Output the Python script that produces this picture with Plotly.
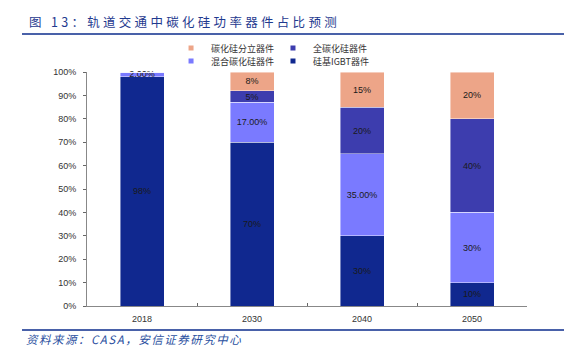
import plotly.graph_objects as go

years = ["2018", "2030", "2040", "2050"]
igbt = [98, 70, 30, 10]
hybrid = [2, 17, 35, 30]
full_sic = [0, 5, 20, 40]
discrete = [0, 8, 15, 20]

igbt_text = ["98%", "70%", "30%", "10%"]
hybrid_text = ["2.00%", "17.00%", "35.00%", "30%"]
full_text = ["", "5%", "20%", "40%"]
discrete_text = ["", "8%", "15%", "20%"]

names = ["硅基IGBT器件", "混合碳化硅器件", "全碳化硅器件", "碳化硅分立器件"]
colors = ["#10288F", "#7A7AFF", "#3D3DAE", "#EDA588"]

y_ticks = [0, 10, 20, 30, 40, 50, 60, 70, 80, 90, 100]
y_tick_labels = ["0%", "10%", "20%", "30%", "40%", "50%", "60%", "70%", "80%", "90%", "100%"]

FONT = "Liberation Sans, Arial, Noto Sans CJK SC, sans-serif"
CJK = "Noto Sans CJK SC, Liberation Sans, sans-serif"

fig = go.Figure()
series = [igbt, hybrid, full_sic, discrete]
texts = [igbt_text, hybrid_text, full_text, discrete_text]
for vals, txt, name, col in zip(series, texts, names, colors):
    fig.add_trace(go.Bar(
        x=years, y=vals, name=name, text=txt,
        textposition="inside", insidetextanchor="middle",
        constraintext="none", textangle=0, cliponaxis=False,
        textfont=dict(family=FONT, size=9, color="#1a1a1a"),
        marker=dict(color=col, line=dict(color="rgba(255,255,255,0.55)", width=0.8)),
        width=0.4, showlegend=False, hoverinfo="skip",
    ))

# legend entries (4 single-item legends placed as in the reference)
legend_pos = {
    "碳化硅分立器件": ("legend", 0.191, 1.1026),
    "全碳化硅器件": ("legend2", 0.4227, 1.1026),
    "混合碳化硅器件": ("legend3", 0.191, 1.047),
    "硅基IGBT器件": ("legend4", 0.4227, 1.047),
}
for name, col in zip(names, colors):
    lg = legend_pos[name][0]
    fig.add_trace(go.Scatter(
        x=[None], y=[None], mode="markers", name=name,
        marker=dict(symbol="square", size=5, color=col),
        legend=lg, showlegend=True, hoverinfo="skip",
    ))

legend_common = dict(font=dict(family=CJK, size=9, color="#333333"),
                     bgcolor="rgba(0,0,0,0)", borderwidth=0,
                     xanchor="left", yanchor="middle", itemwidth=30)
layout_legends = {}
for name, (lg, x, y) in legend_pos.items():
    layout_legends[lg] = dict(x=x, y=y, **legend_common)

# the page body has an 8px margin, so the figure is 8px smaller than the window
fig.update_layout(
    barmode="stack",
    width=564, height=350,
    margin=dict(l=79, r=45, t=64, b=52),
    paper_bgcolor="white", plot_bgcolor="white",
    font=dict(family=FONT, size=9, color="#333333"),
    bargap=0.6,
    **layout_legends,
)

fig.update_xaxes(
    type="category", showline=True, linecolor="#888888", linewidth=1,
    ticks="inside", tickson="boundaries", ticklen=3, tickcolor="#666666",
    tickfont=dict(family=FONT, size=9, color="#333333"),
    showgrid=False, zeroline=False, ticklabelstandoff=4,
)
fig.update_yaxes(
    range=[0, 100], tickvals=y_ticks, ticktext=y_tick_labels,
    showline=True, linecolor="#888888", linewidth=1,
    ticks="outside", ticklen=3, tickcolor="#666666",
    tickfont=dict(family=FONT, size=9, color="#333333"),
    showgrid=False, zeroline=False, ticklabelstandoff=5,
)

# title and source
fig.add_annotation(
    text='<span style="letter-spacing:3.3px">图 13：轨道交通中碳化硅功率器件占比预测</span>',
    xref="paper", yref="paper", x=-0.1364, y=1.2179,
    xanchor="left", yanchor="middle", showarrow=False,
    font=dict(family=CJK, size=12.5, color="#1F3A8F"),
)
fig.add_annotation(
    text='<i><span style="letter-spacing:1.5px">资料来源：CASA，安信证券研究中心</span></i>',
    xref="paper", yref="paper", x=-0.1432, y=-0.141,
    xanchor="left", yanchor="middle", showarrow=False,
    font=dict(family=CJK, size=11.5, color="#2A4FA0"),
)
fig.add_shape(type="line", xref="paper", yref="paper",
              x0=-0.1477, x1=1.0864, y0=1.1624, y1=1.1624,
              line=dict(color="#0D2C8C", width=1.5))
fig.add_shape(type="line", xref="paper", yref="paper",
              x0=-0.1477, x1=1.0864, y0=-0.1026, y1=-0.1026,
              line=dict(color="#0D2C8C", width=1.5))

fig.write_html("out.html")
